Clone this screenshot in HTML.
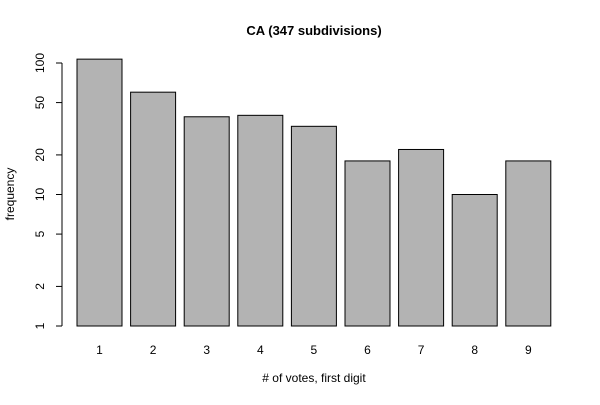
<!DOCTYPE html>
<html><head><meta charset="utf-8"><style>
body{margin:0;background:#fff;}
svg{font-family:"Liberation Sans",Arial,sans-serif;}
</style></head><body>
<svg id="chart" width="600" height="400">
<rect width="600" height="400" fill="#fff"/>
<text x="314" y="35" text-anchor="middle" font-size="13" font-weight="bold">CA (347 subdivisions)</text>
<text x="314" y="382" text-anchor="middle" font-size="12"># of votes, first digit</text>
<text x="0" y="0" transform="translate(14,194) rotate(-90)" text-anchor="middle" font-size="12">frequency</text>
<g id="bars"></g><g id="yaxis"></g><g id="xlabels"></g>
</svg>
<script>
const categories = ["1","2","3","4","5","6","7","8","9"];
const counts = [107, 60, 39, 40, 33, 18, 22, 10, 18];
const yTicks = [1, 2, 5, 10, 20, 50, 100];
const NS = "http://www.w3.org/2000/svg";
function y(v){ return 326 - Math.log10(v) * 131.5; }
function xLeft(i){ return 77 + i * 53.6; }
const bw = 45;
const bars = document.getElementById('bars');
counts.forEach((c,i)=>{
  const r = document.createElementNS(NS,'rect');
  r.setAttribute('x', xLeft(i)); r.setAttribute('y', y(c));
  r.setAttribute('width', bw); r.setAttribute('height', 326 - y(c));
  r.setAttribute('fill', '#b3b3b3'); r.setAttribute('stroke', '#000'); r.setAttribute('stroke-width', '1');
  
  
  bars.appendChild(r);
  const t = document.createElementNS(NS,'text');
  t.setAttribute('x', xLeft(i) + bw/2); t.setAttribute('y', 354);
  t.setAttribute('text-anchor','middle'); t.setAttribute('font-size','12');
  t.textContent = categories[i];
  
  
  document.getElementById('xlabels').appendChild(t);
});
const ya = document.getElementById('yaxis');
const ax = document.createElementNS(NS,'line');
ax.setAttribute('x1',62); ax.setAttribute('x2',62);
ax.setAttribute('y1',y(yTicks[0])); ax.setAttribute('y2',y(yTicks[yTicks.length-1]));
ax.setAttribute('stroke','#000');


ya.appendChild(ax);
yTicks.forEach(v=>{
  const l = document.createElementNS(NS,'line');
  l.setAttribute('x1',56); l.setAttribute('x2',62);
  l.setAttribute('y1',y(v)); l.setAttribute('y2',y(v)); l.setAttribute('stroke','#000');
  
  
  ya.appendChild(l);
  const t = document.createElementNS(NS,'text');
  t.setAttribute('transform','translate(44,'+y(v)+') rotate(-90)');
  t.setAttribute('text-anchor','middle'); t.setAttribute('font-size','12');
  t.textContent = v;
  
  
  ya.appendChild(t);
});
</script>
</body></html>
